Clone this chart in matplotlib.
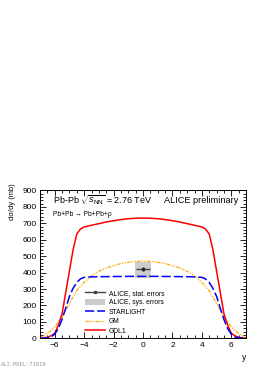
import matplotlib
matplotlib.use("Agg")
import matplotlib.pyplot as plt
from matplotlib.patches import Patch
from matplotlib.lines import Line2D
from matplotlib.ticker import MultipleLocator

plt.rcParams['font.family'] = ['Liberation Sans', 'DejaVu Sans']
plt.rcParams['mathtext.fontset'] = 'custom'
plt.rcParams['mathtext.rm'] = 'Liberation Sans'
plt.rcParams['mathtext.it'] = 'Liberation Sans:italic'

# ---- data ----
gdl1_y = [-7, -6.75, -6.5, -6.25, -6, -5.75, -5.5, -5.25, -5, -4.75, -4.5, -4.25, -4, -3.5, -3, -2.5, -2, -1.5, -1, -0.5,
          0, 0.5, 1, 1.5, 2, 2.5, 3, 3.5, 4, 4.25, 4.5, 4.75, 5, 5.25, 5.5, 5.75, 6, 6.25, 6.5, 6.75, 7]
gdl1_v = [0, 2, 7, 15, 30, 80, 150, 280, 410, 540, 635, 665, 678, 688, 698, 708, 716, 723, 728, 731,
          732, 731, 728, 723, 716, 708, 698, 688, 678, 665, 635, 540, 410, 280, 150, 80, 30, 15, 7, 2, 0]

star_y = [-7, -6.75, -6.5, -6.25, -6, -5.75, -5.5, -5.25, -5, -4.75, -4.5, -4.25, -4, -3.5, -3, -2, -1,
          0, 1, 2, 3, 3.5, 4, 4.25, 4.5, 4.75, 5, 5.25, 5.5, 5.75, 6, 6.25, 6.5, 6.75, 7]
star_v = [0, 1, 3, 8, 25, 60, 115, 184, 255, 305, 340, 362, 371, 374, 375, 376, 377,
          377, 377, 376, 375, 374, 371, 362, 340, 305, 255, 184, 115, 60, 25, 8, 3, 1, 0]

gm_y = [-7, -6.75, -6.5, -6.25, -6, -5.75, -5.5, -5.25, -5, -4.5, -4, -3.5, -3, -2.5, -2, -1.5, -1, -0.5,
        0, 0.5, 1, 1.5, 2, 2.5, 3, 3.5, 4, 4.5, 5, 5.25, 5.5, 5.75, 6, 6.25, 6.5, 6.75, 7]
gm_v = [2, 15, 30, 48, 70, 100, 130, 170, 212, 290, 340, 380, 408, 428, 443, 455, 463, 468,
        470, 468, 463, 455, 443, 428, 408, 380, 340, 290, 212, 170, 130, 100, 70, 48, 30, 15, 2]

alice_y = [0.0]
alice_v = [422]
alice_stat = [12]
alice_xerr = [0.5]
alice_sys_lo = [370]
alice_sys_hi = [465]
alice_sys_halfwidth = 0.55

fig = plt.figure(figsize=(2.69, 3.67), dpi=100)
ax = fig.add_axes([0.1487, 0.0782, 0.9145 - 0.1487, 0.481 - 0.0782])

ax.fill_between([alice_y[0] - alice_sys_halfwidth, alice_y[0] + alice_sys_halfwidth],
                alice_sys_lo[0], alice_sys_hi[0], color='#cccccc', lw=0, zorder=1)
ax.plot(gdl1_y, gdl1_v, color='#ff0000', lw=1.1, zorder=3)
ax.plot(star_y, star_v, color='#0000ff', lw=1.1, dashes=(6, 2), zorder=3)
ax.plot(gm_y, gm_v, color='#ffaa00', lw=0.9, dashes=(3, 1, 1, 1, 1, 1), zorder=2)
ax.errorbar(alice_y, alice_v, yerr=alice_stat, xerr=alice_xerr, fmt='s', ms=1.5,
            color='#222222', ecolor='#444444', elinewidth=1.0, capsize=0, zorder=4)

ax.set_xlim(-7, 7)
ax.set_ylim(0, 900)
ax.xaxis.set_major_locator(MultipleLocator(2))
ax.xaxis.set_minor_locator(MultipleLocator(0.5))
ax.yaxis.set_major_locator(MultipleLocator(100))
ax.yaxis.set_minor_locator(MultipleLocator(20))
ax.tick_params(which='both', direction='in', top=True, right=True, labelsize=6.0, width=0.6, pad=2.5)
ax.tick_params(which='major', length=4.5)
ax.tick_params(which='minor', length=2.3)
for s in ax.spines.values():
    s.set_linewidth(0.7)

fig.text(13 / 269, 1 - 202 / 367, 'dσ/dy (mb)', fontsize=5.4, rotation=90, ha='center', va='center')
fig.text(244 / 269, 1 - 357 / 367, 'y', fontsize=6.2, ha='center', va='center')

ax.text(0.065, 0.915, r'Pb-Pb $\sqrt{s_{\rm NN}}$ = 2.76 TeV', transform=ax.transAxes,
        fontsize=6.5, va='baseline', ha='left')
ax.text(0.965, 0.915, 'ALICE preliminary', transform=ax.transAxes,
        fontsize=6.6, va='baseline', ha='right')
ax.text(0.065, 0.84, 'Pb+Pb → Pb+Pb+ρ', transform=ax.transAxes,
        fontsize=4.8, va='center', ha='left')

handles = [
    Line2D([], [], color='#444444', lw=1.0, marker='s', ms=1.5, markerfacecolor='#222222'),
    Patch(facecolor='#cccccc', edgecolor='none'),
    Line2D([], [], color='#0000ff', lw=1.1, dashes=(6, 2)),
    Line2D([], [], color='#ffaa00', lw=0.9, dashes=(3, 1, 1, 1, 1, 1)),
    Line2D([], [], color='#ff0000', lw=1.1),
]
labels = ['ALICE, stat. errors', 'ALICE, sys. errors', 'STARLIGHT', 'GM', 'GDL1']
leg = ax.legend(handles, labels, loc='upper left', bbox_to_anchor=(0.212, 0.338),
                frameon=False, fontsize=4.9, handlelength=3.0, handleheight=1.0,
                labelspacing=0.3, handletextpad=0.45, borderpad=0.2, borderaxespad=0)

fig.text(0.004, 1 - 364 / 367, 'ALI-PREL-73819', fontsize=4.0, color='#999999',
         family='DejaVu Sans Mono', ha='left', va='center')

fig.savefig('out.png', dpi=100)
